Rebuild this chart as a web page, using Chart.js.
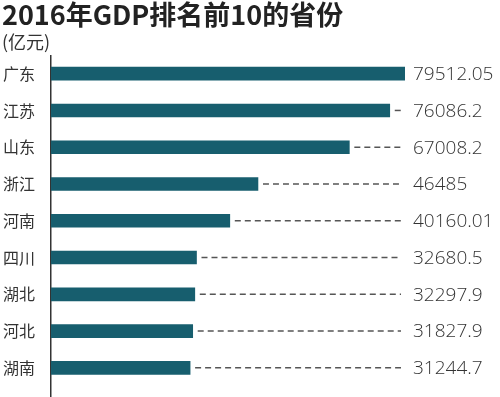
<!DOCTYPE html>
<html>
<head>
<meta charset="utf-8">
<script src="https://cdn.jsdelivr.net/npm/chart.js@4/dist/chart.umd.min.js"></script>
<style>
  html, body { margin: 0; padding: 0; background: #fff; overflow: hidden; }
  #gdpChart { display: block; }
</style>
</head>
<body>
<canvas id="gdpChart" width="500" height="397"></canvas>
<script>
// 2016年各省GDP（亿元），前10名（原图最后一行被裁掉）
let provinces = ['广东', '江苏', '山东', '浙江', '河南', '四川', '湖北', '河北', '湖南', '福建'];
let gdp = [79512.05, 76086.2, 67008.2, 46485, 40160.01, 32680.5, 32297.9, 31827.9, 31244.7, 28519.15];
let gdpLabels = ['79512.05', '76086.2', '67008.2', '46485', '40160.01', '32680.5', '32297.9', '31827.9', '31244.7', '28519.15'];

const cjk = '"Noto Sans CJK SC", "Noto Sans", sans-serif';

// 绘图区往下延伸到画布外面，最后一行就被裁掉
const cropBottom = {
    id: 'cropBottom',
    beforeDatasetsUpdate(chart) {
        const extra = chart.height + 26 - chart.chartArea.bottom;
        const y = chart.scales.y;
        chart.chartArea.bottom += extra;
        chart.chartArea.height += extra;
        y.bottom += extra;
        y.height += extra;
        y.configure();
    }
};

// 柱子右边的虚线和数值
const valueLabels = {
    id: 'valueLabels',
    afterDatasetsDraw(chart) {
        const ctx = chart.ctx;
        const area = chart.chartArea;
        const bars = chart.getDatasetMeta(0).data;
        ctx.save();
        bars.forEach((bar, i) => {
            const lineEnd = area.right - 4;
            if (bar.x + 5 < lineEnd) {
                ctx.beginPath();
                ctx.setLineDash([6, 4]);
                ctx.lineWidth = 1.5;
                ctx.strokeStyle = '#555';
                ctx.moveTo(bar.x + 5, bar.y);
                ctx.lineTo(lineEnd, bar.y);
                ctx.stroke();
            }
            ctx.setLineDash([]);
            ctx.fillStyle = '#333';
            ctx.font = '300 19px "Open Sans", "Liberation Sans", sans-serif';
            ctx.textAlign = 'left';
            ctx.textBaseline = 'middle';
            ctx.fillText(gdpLabels[i], area.right + 8, bar.y + 1);
        });
        ctx.restore();
    }
};

let ctx = document.getElementById('gdpChart').getContext('2d');

let chart = new Chart(ctx, {
    type: 'bar',
    data: {
        labels: provinces,
        datasets: [{
            data: gdp,
            backgroundColor: '#175e6e',
            barThickness: 13
        }]
    },
    options: {
        indexAxis: 'y',
        responsive: false,
        animation: false,
        layout: {
            padding: { left: 2, right: 95, top: 0, bottom: 2 }
        },
        plugins: {
            legend: { display: false },
            tooltip: { enabled: false },
            title: {
                display: true,
                text: '2016年GDP排名前10的省份',
                align: 'start',
                color: '#222',
                font: { family: cjk, size: 27, weight: 'bold', lineHeight: 1.1 },
                padding: { top: 0, bottom: 2 }
            },
            subtitle: {
                display: true,
                text: '(亿元)',
                align: 'start',
                color: '#333',
                font: { family: cjk, size: 18, lineHeight: 1.2 },
                padding: { top: 0, bottom: 2 }
            }
        },
        scales: {
            x: {
                display: false,
                min: 0,
                max: 79512.05
            },
            y: {
                grid: { display: false, drawTicks: false },
                border: { display: true, color: '#333', width: 1.5 },
                ticks: {
                    color: '#333',
                    font: { family: cjk, size: 16 },
                    padding: 16
                },
                afterFit(scale) {
                    scale.width = 49;
                }
            }
        }
    },
    plugins: [cropBottom, valueLabels]
});
</script>
</body>
</html>
